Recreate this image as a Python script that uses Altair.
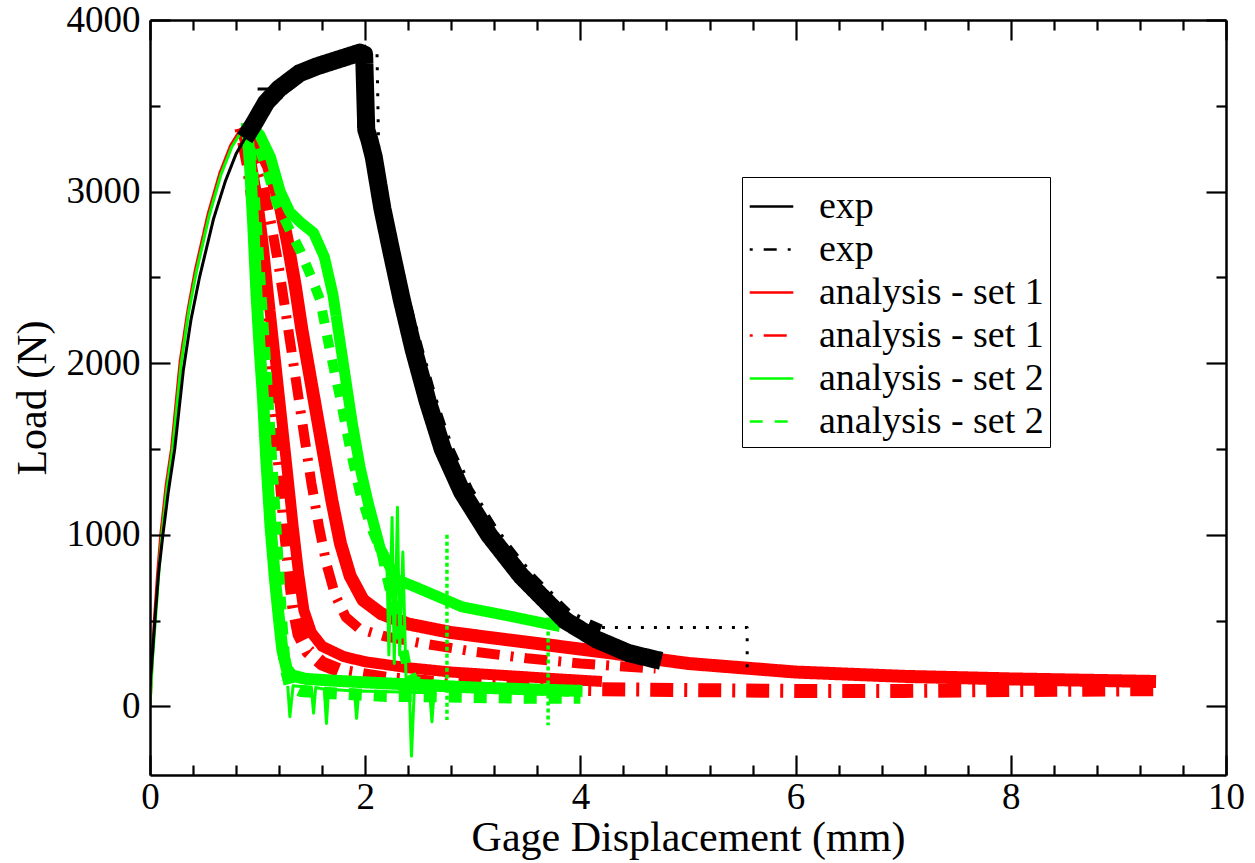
import altair as alt
import pandas as pd

# ---------------- legend series ----------------
SERIES = ["exp", "exp ", "analysis - set 1", "analysis - set 1 ", "analysis - set 2", "analysis - set 2 "]
COLORS = ["#000000", "#000000", "#ff0000", "#ff0000", "#00ff00", "#00ff00"]
DASHES = [[1, 0], [3, 11, 13, 11], [1, 0], [3, 11, 23, 11], [1, 0], [13, 12]]

# ---------------- axis ticks ----------------
X_MAJOR = [0, 2, 4, 6, 8, 10]
X_MINOR = [0.4, 0.8, 1.2, 1.6, 2.4, 2.8, 3.2, 3.6, 4.4, 4.8, 5.2, 5.6, 6.4, 6.8, 7.2, 7.6, 8.4, 8.8, 9.2, 9.6]
Y_MAJOR = [0, 1000, 2000, 3000, 4000]
Y_MINOR = [500, 1500, 2500, 3500]

# ---------------- experiment curves ----------------
EXP_RISE_X = [0.0, 0.02, 0.05, 0.08, 0.12, 0.17, 0.23, 0.31, 0.38, 0.46, 0.59, 0.70, 0.80, 0.90, 0.96]
EXP_RISE_Y = [120, 280, 540, 780, 1000, 1250, 1500, 1960, 2250, 2500, 2840, 3060, 3220, 3330, 3390]

EXP1_X = [0.88, 0.96, 1.08, 1.20, 1.39, 1.55, 1.70, 1.85, 1.95, 1.99, 2.01, 2.04, 2.08, 2.16, 2.24, 2.34, 2.45,
          2.58, 2.72, 2.90, 3.15, 3.45, 3.86, 4.15, 4.45, 4.75]
EXP1_Y = [3310, 3390, 3520, 3600, 3690, 3730, 3760, 3790, 3810, 3800, 3360, 3300, 3200, 2900, 2660, 2370, 2080,
          1780, 1500, 1250, 1000, 760, 500, 390, 310, 265]
EXP1_STEP_X = [1.00, 1.22]
EXP1_STEP_Y = [3598, 3598]

EXP2_TOP_X = [0.96, 1.10, 1.40, 1.70, 1.90, 2.08]
EXP2_TOP_Y = [3390, 3520, 3690, 3760, 3800, 3830]
EXP2_DROP_A_X = [1.94, 1.94]
EXP2_DROP_A_Y = [3750, 3360]
EXP2_DROP_B_X = [2.11, 2.13]
EXP2_DROP_B_Y = [3800, 3070]
EXP2_DESC_X = [2.13, 2.20, 2.28, 2.38, 2.50, 2.63, 2.77, 2.95, 3.20, 3.50, 3.90, 4.20]
EXP2_DESC_Y = [3070, 2800, 2600, 2330, 2050, 1760, 1500, 1260, 1010, 770, 520, 440]
EXP2_TAIL_X = [4.20, 5.55, 5.55]
EXP2_TAIL_Y = [460, 460, 190]

# ---------------- analysis set 1 (red) ----------------
RED_RISE_X = [0.0, 0.02, 0.04, 0.07, 0.10, 0.15, 0.20, 0.28, 0.35, 0.42, 0.54, 0.65, 0.75, 0.85]
RED_RISE_Y = [0, 260, 500, 770, 1000, 1290, 1500, 2010, 2300, 2540, 2870, 3110, 3270, 3370]

RED_S1_X = [0.85, 0.93, 1.00, 1.05, 1.10, 1.16, 1.22, 1.28, 1.33, 1.38, 1.43, 1.50, 1.60, 1.80, 2.00,
            2.40, 2.80, 3.30, 3.80, 4.20]
RED_S1_Y = [3370, 3200, 2950, 2700, 2400, 2050, 1700, 1350, 1050, 780, 560, 430, 350, 290, 260,
            225, 200, 180, 160, 145]
RED_D1_X = [0.85, 0.92, 0.97, 1.02, 1.06, 1.12, 1.17, 1.22, 1.26, 1.30, 1.34, 1.39, 1.47, 1.60, 1.80,
            2.20, 2.80, 3.50, 4.20, 5.00, 6.00, 7.00, 8.00, 9.35]
RED_D1_Y = [3370, 3150, 2900, 2600, 2370, 2000, 1650, 1350, 1050, 800, 580, 420, 320, 250, 200,
            160, 130, 110, 100, 95, 90, 90, 95, 100]
RED_S2_X = [0.87, 0.98, 1.10, 1.20, 1.28, 1.35, 1.41, 1.48, 1.55, 1.62, 1.69, 1.77, 1.86, 1.98, 2.15,
            2.40, 2.80, 3.30, 3.80, 4.30, 5.00, 6.00, 7.00, 8.00, 9.35]
RED_S2_Y = [3380, 3300, 3150, 2950, 2700, 2450, 2200, 1950, 1700, 1450, 1200, 950, 760, 620, 540,
            480, 430, 390, 350, 310, 250, 200, 175, 160, 145]
RED_D2_X = [0.86, 0.95, 1.05, 1.13, 1.20, 1.26, 1.32, 1.38, 1.44, 1.50, 1.57, 1.64, 1.72, 1.82, 1.95,
            2.17, 2.50, 3.00, 3.50, 4.00, 4.70]
RED_D2_Y = [3360, 3250, 3050, 2800, 2550, 2300, 2050, 1800, 1550, 1300, 1050, 830, 650, 520, 450,
            410, 370, 320, 280, 250, 220]

# ---------------- analysis set 2 (green) ----------------
GRN_RISE_X = [0.0, 0.02, 0.05, 0.08, 0.11, 0.16, 0.21, 0.29, 0.36, 0.43, 0.55, 0.66, 0.76, 0.90]
GRN_RISE_Y = [0, 250, 500, 760, 1000, 1280, 1500, 2000, 2300, 2530, 2860, 3100, 3260, 3400]

GRN_S1_X = [0.90, 0.93, 0.96, 0.99, 1.02, 1.05, 1.08, 1.12, 1.16, 1.20, 1.23, 1.27, 1.32, 1.45, 1.70,
            2.00, 2.50, 3.00, 3.50, 4.02]
GRN_S1_Y = [3400, 3150, 2800, 2400, 2080, 1800, 1450, 1050, 750, 500, 330, 220, 180, 160, 150,
            140, 125, 110, 100, 90]
GRN_D1_X = [0.90, 0.95, 0.99, 1.03, 1.07, 1.11, 1.15, 1.19, 1.22, 1.25, 1.30, 1.40, 1.60, 1.90, 2.20,
            2.50, 3.00, 3.50, 4.00]
GRN_D1_Y = [3400, 3100, 2750, 2370, 2000, 1600, 1200, 800, 500, 250, 120, 90, 80, 70, 60,
            60, 55, 50, 50]
GRN_S2_X = [0.92, 1.02, 1.12, 1.21, 1.30, 1.40, 1.52, 1.62, 1.70, 1.76, 1.82, 1.88, 1.95, 2.03, 2.14,
            2.29, 2.45, 2.90, 3.35, 3.81]
GRN_S2_Y = [3400, 3330, 3200, 3000, 2880, 2820, 2760, 2620, 2400, 2150, 1900, 1650, 1400, 1180, 920,
            740, 700, 580, 525, 465]
GRN_D2_X = [0.90, 1.00, 1.10, 1.18, 1.28, 1.40, 1.50, 1.58, 1.67, 1.77, 1.86, 1.95, 2.05, 2.15, 2.22,
            2.30, 2.38, 2.45, 2.60, 3.00, 3.50, 3.90]
GRN_D2_Y = [3380, 3280, 3100, 2930, 2800, 2650, 2500, 2370, 2080, 1790, 1500, 1250, 1050, 900, 700,
            500, 250, 150, 130, 110, 95, 85]

GRN_SPIKE_X = [2.20, 2.22, 2.25, 2.27, 2.30, 2.32, 2.35, 2.38, 2.41, 2.43, 2.46]
GRN_SPIKE_Y = [900, 300, 1100, 250, 1160, 300, 900, 150, 100, -290, 150]
GRN_LOW_SPIKE_X = [1.28, 1.30, 1.33, 1.50, 1.52, 1.54, 1.62, 1.64, 1.66, 1.90, 1.92, 1.94, 2.60, 2.62, 2.64]
GRN_LOW_SPIKE_Y = [120, -60, 120, 110, -40, 110, 100, -100, 100, 90, -70, 90, 80, -90, 80]
GRN_DOT_A_X = [2.76, 2.76]
GRN_DOT_A_Y = [1000, -80]
GRN_DOT_B_X = [3.70, 3.70]
GRN_DOT_B_Y = [600, -110]


def rows_of(cid, series, xs, ys, w):
    return [dict(x=x, y=y, curve=cid, series=series, w=w, o=i) for i, (x, y) in enumerate(zip(xs, ys))]


red_rows = (rows_of("r_rise", SERIES[2], RED_RISE_X, RED_RISE_Y, 3)
            + rows_of("r_s2", SERIES[2], RED_S2_X, RED_S2_Y, 13)
            + rows_of("r_d2", SERIES[3], RED_D2_X, RED_D2_Y, 10)
            + rows_of("r_s1", SERIES[2], RED_S1_X, RED_S1_Y, 11)
            + rows_of("r_d1", SERIES[3], RED_D1_X, RED_D1_Y, 14))
grn_rows = (rows_of("g_rise", SERIES[4], GRN_RISE_X, GRN_RISE_Y, 3)
            + rows_of("g_s2", SERIES[4], GRN_S2_X, GRN_S2_Y, 11)
            + rows_of("g_d2", SERIES[5], GRN_D2_X, GRN_D2_Y, 10)
            + rows_of("g_s1", SERIES[4], GRN_S1_X, GRN_S1_Y, 12)
            + rows_of("g_d1", SERIES[5], GRN_D1_X, GRN_D1_Y, 12))
blk_rows = (rows_of("e_rise", SERIES[0], EXP_RISE_X, EXP_RISE_Y, 3)
            + rows_of("e1", SERIES[0], EXP1_X, EXP1_Y, 18)
            + rows_of("e1_step", SERIES[0], EXP1_STEP_X, EXP1_STEP_Y, 3)
            + rows_of("e2_top", SERIES[1], EXP2_TOP_X, EXP2_TOP_Y, 13)
            + rows_of("e2_desc", SERIES[1], EXP2_DESC_X, EXP2_DESC_Y, 12)
            + rows_of("e2_da", SERIES[1], EXP2_DROP_A_X, EXP2_DROP_A_Y, 3))
blk_dot_rows = (rows_of("e2_db", "", EXP2_DROP_B_X, EXP2_DROP_B_Y, 3)
                + rows_of("e2_tail", "", EXP2_TAIL_X, EXP2_TAIL_Y, 3))
grn_thin_rows = (rows_of("gs", "", GRN_SPIKE_X, GRN_SPIKE_Y, 3)
                 + rows_of("gls", "", GRN_LOW_SPIKE_X, GRN_LOW_SPIKE_Y, 3))
grn_dot_rows = (rows_of("gda", "", GRN_DOT_A_X, GRN_DOT_A_Y, 3)
                + rows_of("gdb", "", GRN_DOT_B_X, GRN_DOT_B_Y, 3))

W, H = 1076, 755
XS = alt.Scale(domain=[0, 10], nice=False, zero=False)
YS = alt.Scale(domain=[-400, 4000], nice=False, zero=False)
FONT = "Liberation Serif"

legend = alt.Legend(
    title=None, orient="none", legendX=592, legendY=157, symbolType="stroke",
    symbolSize=1900, symbolStrokeWidth=2.5, labelFont=FONT, labelFontSize=38,
    labelColor="black", labelOffset=24, labelLimit=400, rowPadding=0, padding=6,
    strokeColor="black", fillColor="white", symbolOpacity=1,
)
color_enc = alt.Color("series:N", scale=alt.Scale(domain=SERIES, range=COLORS), legend=legend)
dash_enc = alt.StrokeDash("series:N", scale=alt.Scale(domain=SERIES, range=DASHES), legend=legend)

x_main = alt.X("x:Q", scale=XS, axis=alt.Axis(
    orient="bottom", values=X_MAJOR, ticks=False, domain=False, grid=False, format="d",
    labelFlush=False, labelOverlap=False,
    labelFont=FONT, labelFontSize=37, labelColor="black", labelPadding=4,
    title="Gage Displacement (mm)", titleFont=FONT, titleFontSize=42, titleFontWeight="normal",
    titleColor="black", titlePadding=2))
y_main = alt.Y("y:Q", scale=YS, axis=alt.Axis(
    orient="left", values=Y_MAJOR, ticks=False, domain=False, grid=False, format="d",
    labelFlush=False, labelOverlap=False,
    labelFont=FONT, labelFontSize=37, labelColor="black", labelPadding=10,
    title="Load (N)", titleFont=FONT, titleFontSize=42, titleFontWeight="normal",
    titleColor="black", titlePadding=12))
x_none = alt.X("x:Q", scale=XS, axis=None)
y_none = alt.Y("y:Q", scale=YS, axis=None)


def data_layer(rows, first=False):
    return alt.Chart(pd.DataFrame(rows)).mark_line(strokeJoin="round", clip=True).encode(
        x=x_main if first else x_none,
        y=y_main if first else y_none,
        color=color_enc,
        strokeDash=dash_enc,
        strokeWidth=alt.StrokeWidth("w:Q", scale=None),
        detail="curve:N",
        order="o:Q",
    )


def thin_layer(rows, color, dash, width):
    kw = dict(color=color, strokeWidth=width, strokeJoin="round", clip=True)
    if dash:
        kw["strokeDash"] = dash
    return alt.Chart(pd.DataFrame(rows)).mark_line(**kw).encode(
        x=x_none, y=y_none, detail="curve:N", order="o:Q")


tick_df = pd.DataFrame({"x": [5], "y": [2000]})


def x_tick_layer(orient, values, size, domain):
    ax = alt.Axis(orient=orient, offset=-H, values=values, tickSize=size, tickWidth=2.2,
                  tickColor="black", labels=False, title=None, grid=False, domain=domain,
                  domainColor="black", domainWidth=2.5, zindex=2)
    return alt.Chart(tick_df).mark_point(opacity=0).encode(
        x=alt.X("x:Q", scale=XS, axis=ax), y=y_none)


def y_tick_layer(orient, values, size, domain):
    ax = alt.Axis(orient=orient, offset=-W, values=values, tickSize=size, tickWidth=2.2,
                  tickColor="black", labels=False, title=None, grid=False, domain=domain,
                  domainColor="black", domainWidth=2.5, zindex=2)
    return alt.Chart(tick_df).mark_point(opacity=0).encode(
        x=x_none, y=alt.Y("y:Q", scale=YS, axis=ax))


layers = [
    data_layer(red_rows, first=True),
    data_layer(grn_rows),
    thin_layer(grn_thin_rows, "#00ff00", None, 3),
    thin_layer(grn_dot_rows, "#00ff00", [4, 3], 3.5),
    data_layer(blk_rows),
    thin_layer(blk_dot_rows, "black", [3, 10], 3),
    x_tick_layer("top", X_MAJOR, 20, True),
    x_tick_layer("top", X_MINOR, 10, False),
    x_tick_layer("bottom", X_MAJOR, 20, True),
    x_tick_layer("bottom", X_MINOR, 10, False),
    y_tick_layer("right", Y_MAJOR, 20, True),
    y_tick_layer("right", Y_MINOR, 10, False),
    y_tick_layer("left", Y_MAJOR, 20, True),
    y_tick_layer("left", Y_MINOR, 10, False),
]

chart = alt.layer(*layers).resolve_axis(x="independent", y="independent").properties(
    width=W, height=H,
    autosize=alt.AutoSizeParams(type="none"),
    padding={"left": 150, "top": 20, "right": 29, "bottom": 88},
    background="white",
).configure_view(stroke=None)

chart.save("out.html", embed_options={"renderer": "svg", "actions": False})
